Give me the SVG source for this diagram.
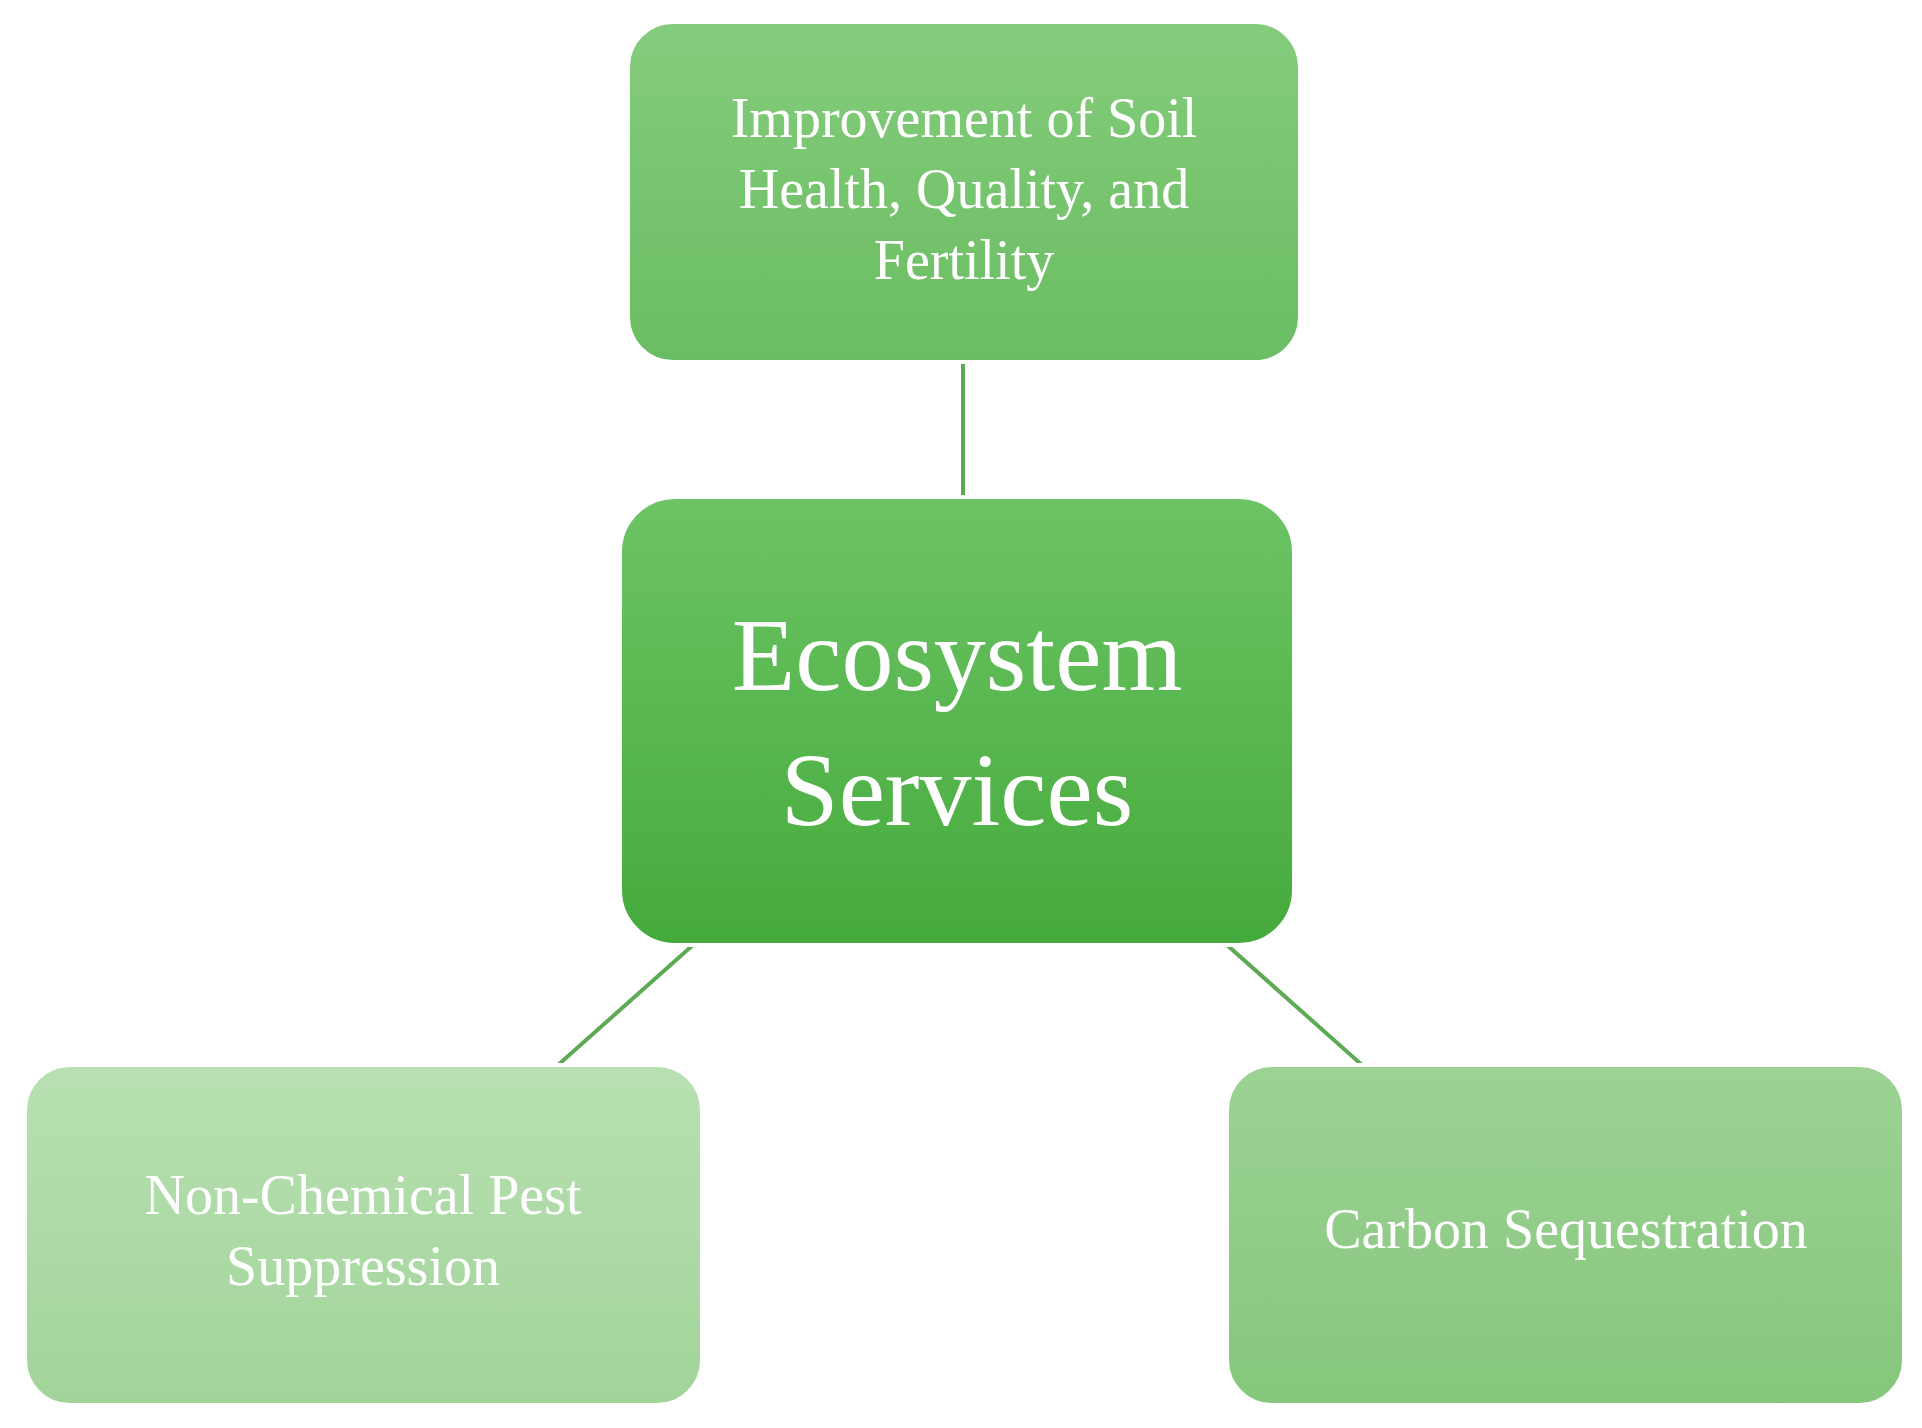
<svg xmlns="http://www.w3.org/2000/svg" width="1922" height="1428" viewBox="0 0 1922 1428">
<style>
.box{stroke:#ffffff;stroke-width:4}
.t{font-family:"Liberation Serif",serif;fill:#ffffff;text-anchor:middle}
.c{stroke:#5daa55;stroke-width:4}
</style>
<defs>
<linearGradient id="gTop" x1="0" y1="0" x2="0" y2="1"><stop offset="0" stop-color="#84cc7c"/><stop offset="1" stop-color="#6abd62"/></linearGradient>
<linearGradient id="gCen" x1="0" y1="0" x2="0" y2="1"><stop offset="0" stop-color="#6cc464"/><stop offset="1" stop-color="#45aa3c"/></linearGradient>
<linearGradient id="gL" x1="0" y1="0" x2="0" y2="1"><stop offset="0" stop-color="#b8e0b2"/><stop offset="1" stop-color="#a2d49a"/></linearGradient>
<linearGradient id="gR" x1="0" y1="0" x2="0" y2="1"><stop offset="0" stop-color="#9cd394"/><stop offset="1" stop-color="#86c67c"/></linearGradient>
</defs>
<rect width="1922" height="1428" fill="#ffffff"/>
<g id="connectors">
<line class="c" x1="963" y1="362" x2="963" y2="497"/>
<line class="c" x1="693" y1="945" x2="558" y2="1065"/>
<line class="c" x1="1227" y1="945" x2="1362" y2="1065"/>
</g>
<g id="top">
<rect class="box" x="628" y="22" width="672" height="340" rx="45" fill="url(#gTop)"/>
<text class="t" font-size="56" x="964" y="137">Improvement of Soil</text>
<text class="t" font-size="56" x="964" y="208">Health, Quality, and</text>
<text class="t" font-size="56" x="964" y="279">Fertility</text>
</g>
<g id="center">
<rect class="box" x="620" y="497" width="674" height="448" rx="55" fill="url(#gCen)"/>
<text class="t" font-size="104" x="957" y="690">Ecosystem</text>
<text class="t" font-size="104" x="957" y="825">Services</text>
</g>
<g id="left">
<rect class="box" x="25" y="1065" width="677" height="340" rx="45" fill="url(#gL)"/>
<text class="t" font-size="56" x="363" y="1214">Non-Chemical Pest</text>
<text class="t" font-size="56" x="363" y="1285">Suppression</text>
</g>
<g id="right">
<rect class="box" x="1227" y="1065" width="677" height="340" rx="45" fill="url(#gR)"/>
<text class="t" font-size="56" x="1566" y="1248">Carbon Sequestration</text>
</g>
</svg>
